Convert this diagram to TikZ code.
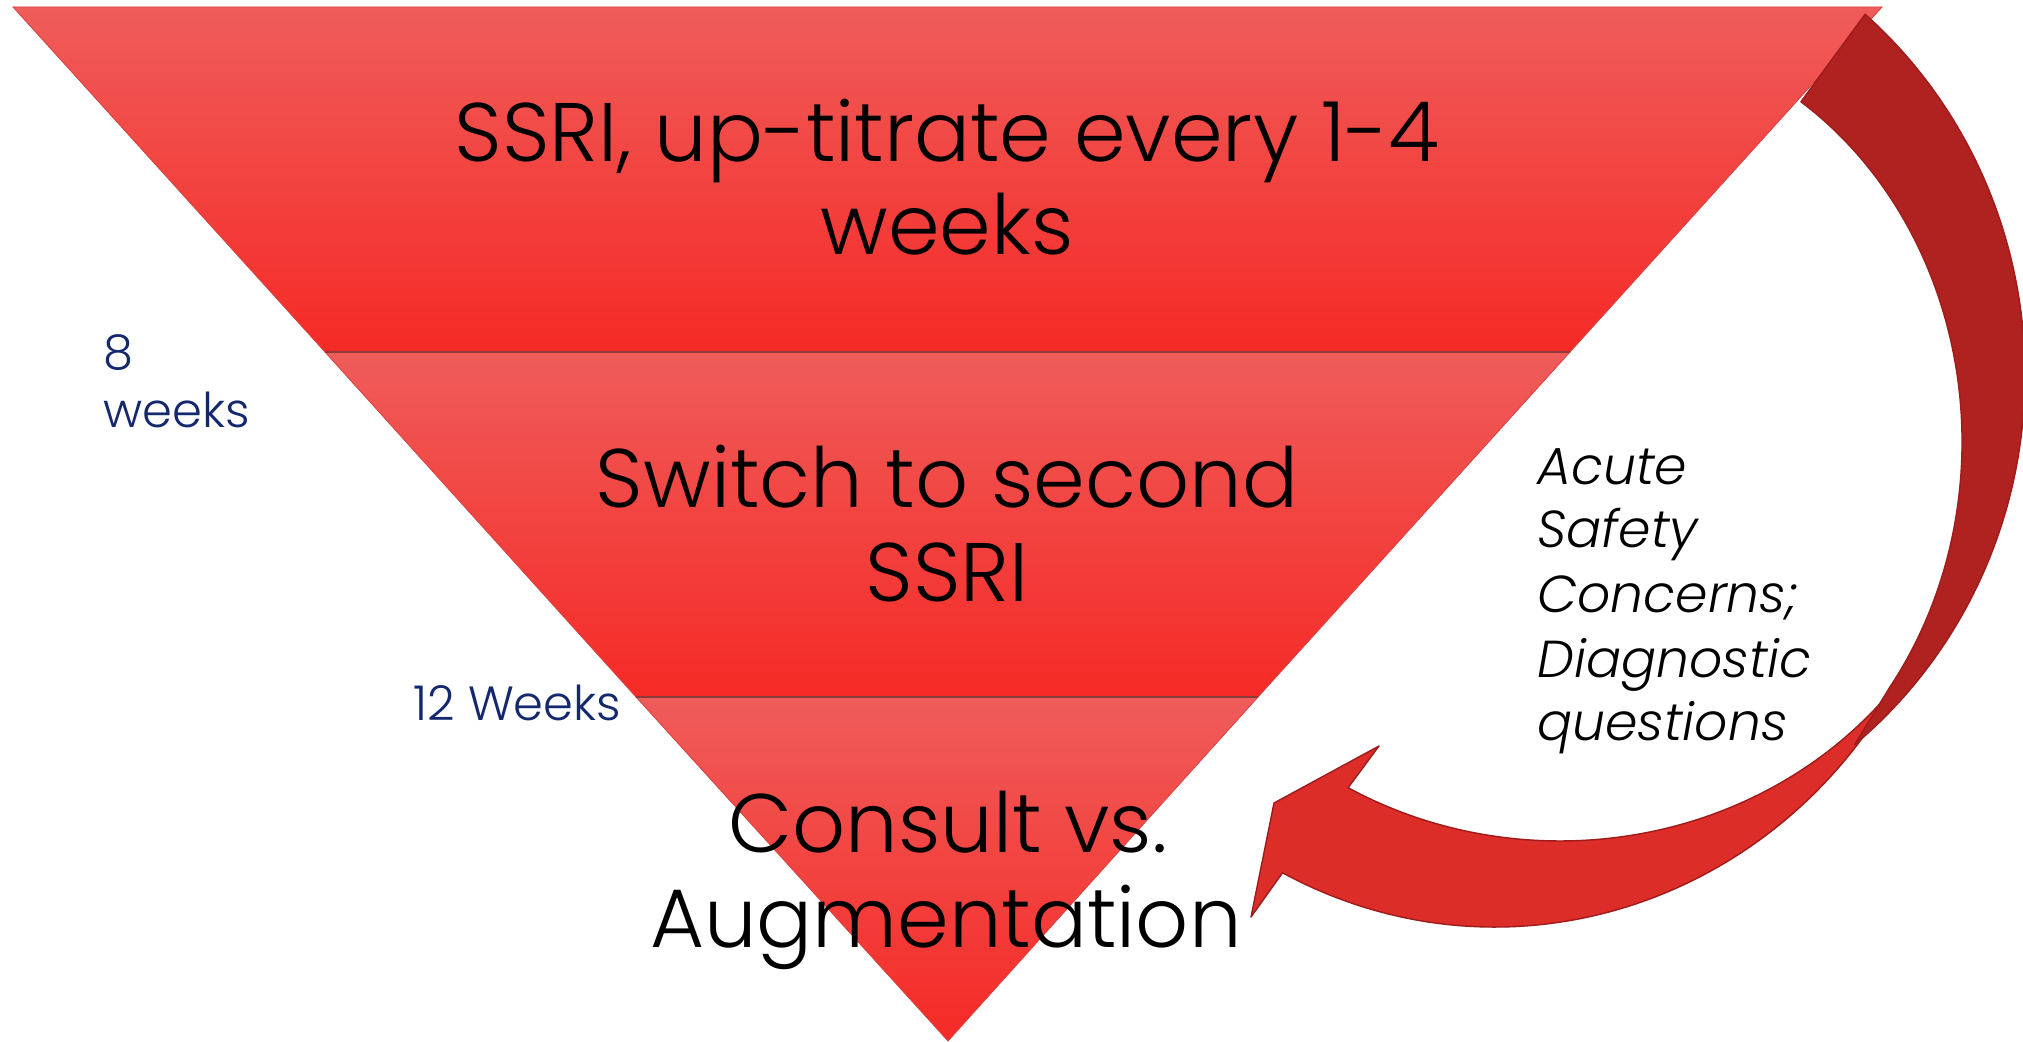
\documentclass[tikz,border=0pt]{standalone}
\usepackage{fontspec}
\IfFontExistsTF{Poppins Light}
  {\setmainfont{Poppins}[UprightFont={* Light}, ItalicFont={* Light Italic}]}
  {\setmainfont{Poppins}}
\definecolor{secTop}{HTML}{EF5C5A}
\definecolor{secBot}{HTML}{F52A26}
\definecolor{secEdge}{HTML}{D84040}
\definecolor{secSep}{HTML}{8C3A3A}
\definecolor{arrDark}{HTML}{B0221F}
\definecolor{arrBright}{HTML}{DC2D28}
\definecolor{arrLine}{HTML}{9E1C1C}
\definecolor{navy}{HTML}{14286E}
\begin{document}
\begin{tikzpicture}[x=0.5pt,y=-0.5pt,
  sect/.style={top color=secTop, bottom color=secBot, draw=secEdge, line width=0.4pt},
  sepline/.style={draw=secSep, line width=0.9pt},
  maintext/.style={font=\fontsize{41.5}{48}\selectfont, anchor=base, inner sep=0pt, text=black},
  weektext/.style={font=\fontsize{24}{28}\selectfont, anchor=base west, inner sep=0pt, text=navy},
  sidetext/.style={font=\fontsize{26}{30}\selectfont\itshape, anchor=base west, inner sep=0pt, text=black},
  arrowbody/.style={draw=arrLine, line width=0.7pt, line join=round}]
\useasboundingbox (0,0) rectangle (2023,1042);
\fill[white] (0,0) rectangle (2023,1042);

% inverted triangle, three sections
\shade[sect] (13,7) -- (1882,7) -- (1570,352) -- (325,352) -- cycle;
\shade[sect] (325,352) -- (1570,352) -- (1258,697) -- (636,697) -- cycle;
\shade[sect] (636,697) -- (1258,697) -- (948,1041) -- cycle;
\draw[sepline] (325,352) -- (1570,352);
\draw[sepline] (636,697) -- (1258,697);

% curved arrow: front (bright) part with head
\path[arrowbody, fill=arrBright]
  (1908.2,663.3) arc[start angle=28, end angle=117, x radius=468, y radius=497]
  -- (1251,917) -- (1274,803) -- (1379,746) -- (1348.1,787.7)
  arc[start angle=120.3, end angle=30, x radius=420, y radius=390]
  -- cycle;
% curved arrow: back (dark) part
\path[arrowbody, fill=arrDark]
  (1865.1,14.2) arc[start angle=-49, end angle=50.7, x radius=465, y radius=478]
  -- (1889.9,687.0)
  arc[start angle=36.8, end angle=-56.3, x radius=362, y radius=409]
  -- cycle;

% section texts
\node[maintext] (s1a) at (947,162) {SSRI, up-titrate every 1-4};
\node[maintext] (s1b) at (947,255) {weeks};
\node[maintext] (s2a) at (947,508) {Switch to second};
\node[maintext] (s2b) at (947,602) {SSRI};
\node[maintext] (s3a) at (948,852) {Consult vs.};
\node[maintext] (s3b) at (946,947) {Augmentation};

% time labels
\node[weektext] (w8a) at (103,370) {8};
\node[weektext] (w8b) at (103,428) {weeks};
\node[weektext] (w12) at (413,720) {12 Weeks};

% arrow label
\node[sidetext] (l1) at (1537,485) {Acute};
\node[sidetext] (l2) at (1537,548) {Safety};
\node[sidetext] (l3) at (1537,612) {Concerns;};
\node[sidetext] (l4) at (1537,677) {Diagnostic};
\node[sidetext] (l5) at (1537,740) {questions};
\end{tikzpicture}
\end{document}
